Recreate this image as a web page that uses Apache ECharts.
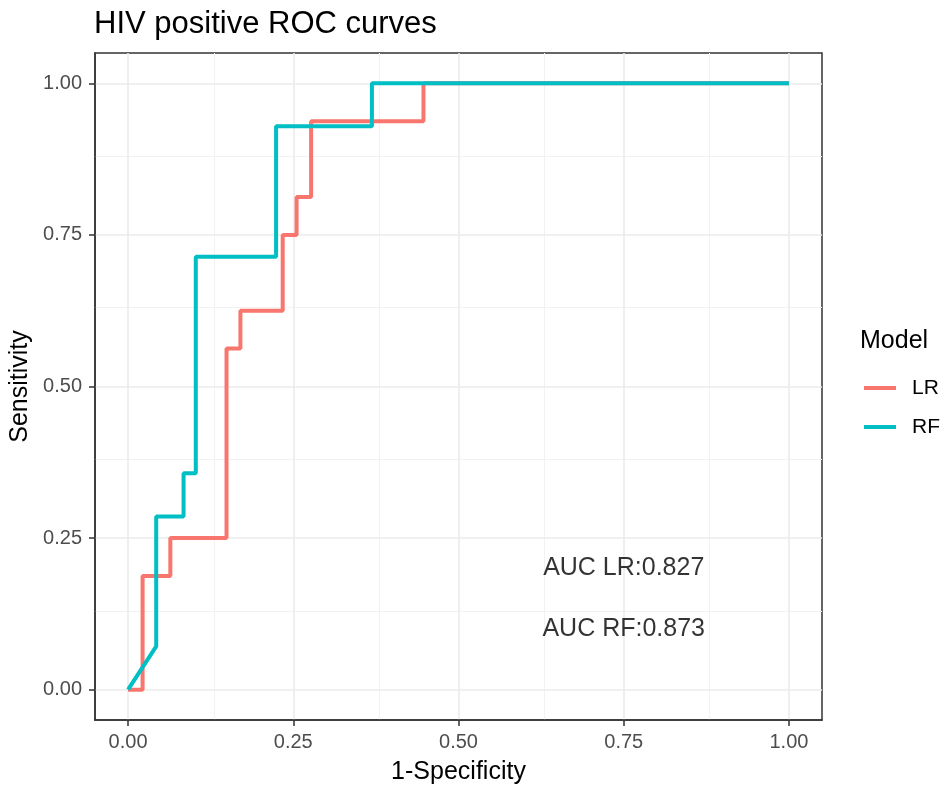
<!DOCTYPE html>
<html>
<head>
<meta charset="utf-8">
<script src="https://cdn.jsdelivr.net/npm/echarts@6/dist/echarts.min.js"></script>
<style>
  html, body { margin: 0; padding: 0; background: #fff; }
  #main { width: 944px; height: 787px; }
</style>
</head>
<body>
<div id="main"></div>
<script>
// ROC step points (1-specificity, sensitivity)
const lrFpr = [0, 0.022, 0.022, 0.064, 0.064, 0.149, 0.149, 0.170, 0.170, 0.234, 0.234, 0.255, 0.255, 0.277, 0.277, 0.447, 0.447, 1];
const lrTpr = [0, 0, 0.1875, 0.1875, 0.25, 0.25, 0.5625, 0.5625, 0.625, 0.625, 0.75, 0.75, 0.8125, 0.8125, 0.9375, 0.9375, 1, 1];
const rfFpr = [0, 0.0426, 0.0426, 0.084, 0.084, 0.1025, 0.1025, 0.224, 0.224, 0.369, 0.369, 1];
const rfTpr = [0, 0.0714, 0.2857, 0.2857, 0.357, 0.357, 0.714, 0.714, 0.929, 0.929, 1, 1];

const tickValues = [0, 0.25, 0.5, 0.75, 1];
const minorValues = [0.125, 0.375, 0.625, 0.875];
const aucLabels = ['AUC LR:0.827', 'AUC RF:0.873'];
const aucPos = [[0.75, 0.2], [0.75, 0.1]];

const zip = (xs, ys) => xs.map((x, i) => [x, ys[i]]);

// panel grid lines (ggplot theme_bw look)
const gridLines = [];
minorValues.forEach((v) => {
  gridLines.push({ xAxis: v, lineStyle: { width: 1, color: '#f2f2f2', type: 'solid' } });
  gridLines.push({ yAxis: v, lineStyle: { width: 1, color: '#f2f2f2', type: 'solid' } });
});
tickValues.forEach((v) => {
  gridLines.push({ xAxis: v, lineStyle: { width: 1.6, color: '#ebebeb', type: 'solid' } });
  gridLines.push({ yAxis: v, lineStyle: { width: 1.6, color: '#ebebeb', type: 'solid' } });
});

const font = 'Liberation Sans, Arial, sans-serif';

const axisCommon = {
  type: 'value',
  min: -0.05,
  max: 1.05,
  nameLocation: 'middle',
  nameTextStyle: { fontFamily: font, fontSize: 25, color: '#000' },
  axisLine: { show: true, onZero: false, lineStyle: { color: '#333', width: 1.5 } },
  axisTick: { show: true, customValues: tickValues, length: 6, lineStyle: { color: '#333', width: 1.5 } },
  axisLabel: {
    customValues: tickValues,
    fontFamily: font,
    fontSize: 20,
    color: '#4d4d4d',
    formatter: (v) => v.toFixed(2),
  },
  splitLine: { show: false },
};

const chart = echarts.init(document.getElementById('main'));
chart.setOption({
  animation: false,
  backgroundColor: '#fff',
  title: {
    text: 'HIV positive ROC curves',
    left: 94,
    top: 9,
    padding: 0,
    textStyle: { fontFamily: font, fontSize: 31, fontWeight: 'normal', color: '#000' },
  },
  grid: {
    left: 95, top: 53, width: 727, height: 667,
    outerBoundsMode: 'none', containLabel: false,
    show: true, borderColor: '#333', borderWidth: 1.5,
  },
  xAxis: Object.assign({}, axisCommon, {
    name: '1-Specificity',
    nameGap: 40,
    axisLabel: Object.assign({}, axisCommon.axisLabel, { margin: 12 }),
  }),
  yAxis: Object.assign({}, axisCommon, {
    name: 'Sensitivity',
    nameGap: 59,
    axisLabel: Object.assign({}, axisCommon.axisLabel, { margin: 13 }),
  }),
  legend: {
    data: ['LR', 'RF'],
    orient: 'vertical',
    left: 859,
    top: 372,
    icon: 'rect',
    itemWidth: 32,
    itemHeight: 4,
    itemGap: 17,
    textStyle: { fontFamily: font, fontSize: 21, color: '#000', lineHeight: 22, padding: [0, 0, 0, 11] },
  },
  graphic: [{
    type: 'text',
    left: 860,
    top: 329,
    style: { text: 'Model', font: '25px ' + font, fill: '#000' },
  }],
  series: [
    {
      name: 'grid',
      type: 'line',
      data: [],
      z: 0,
      silent: true,
      markLine: { silent: true, z: 0, symbol: 'none', label: { show: false }, data: gridLines, animation: false },
    },
    {
      name: 'LR',
      type: 'line',
      data: zip(lrFpr, lrTpr),
      showSymbol: false,
      color: '#F8766D',
      lineStyle: { width: 4, color: '#F8766D' },
      z: 3,
    },
    {
      name: 'RF',
      type: 'line',
      data: zip(rfFpr, rfTpr),
      showSymbol: false,
      color: '#00BFC4',
      lineStyle: { width: 4, color: '#00BFC4' },
      z: 4,
    },
    {
      name: 'auc',
      type: 'scatter',
      symbolSize: 0,
      data: aucPos.map((p, i) => ({ value: p, name: aucLabels[i] })),
      label: {
        show: true,
        position: 'inside',
        formatter: (p) => p.name,
        fontFamily: font,
        fontSize: 25,
        color: '#000',
      },
      silent: true,
      z: 5,
    },
  ],
});
</script>
</body>
</html>
